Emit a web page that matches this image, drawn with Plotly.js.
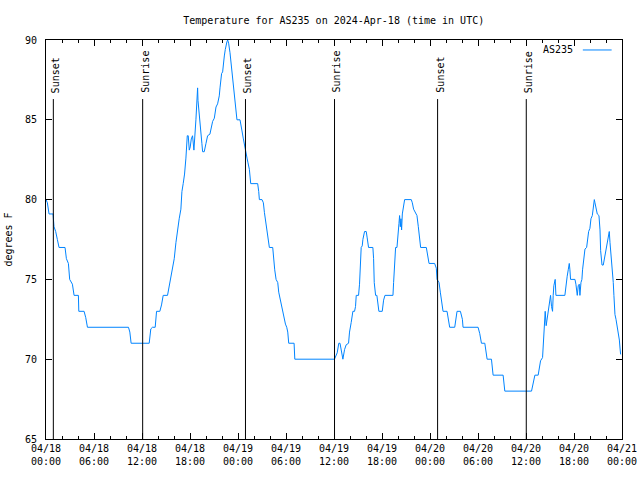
<!DOCTYPE html>
<html>
<head>
<meta charset="utf-8">
<script src="https://cdn.plot.ly/plotly-3.0.1.min.js"></script>
<style>html,body{margin:0;padding:0;background:#fff;}#chart{width:640px;height:480px;}</style>
</head>
<body>
<div id="chart"></div>
<script>
// Hours since 2024-04-18 00:00 UTC
const hours = [0,0.17,0.38,0.88,1.0,1.21,1.42,1.63,2.38,2.55,2.80,2.96,3.30,3.51,4.05,4.1,4.76,4.97,5.18,10.31,10.48,10.64,12.9,13.1,13.31,13.65,13.82,14.23,14.44,14.65,15.19,15.40,15.61,15.82,16.03,16.24,16.44,16.65,16.86,16.99,17.15,17.32,17.49,17.57,17.66,17.78,17.91,18.03,18.16,18.32,18.49,18.74,18.87,18.95,19.0,19.24,19.49,19.58,19.78,19.99,20.2,20.49,20.62,20.83,21.04,21.25,21.45,21.66,21.75,21.95,22.08,22.16,22.29,22.41,22.5,22.62,22.71,22.83,23.0,23.12,23.25,23.33,23.46,23.62,23.75,23.87,24.25,24.38,24.5,24.67,24.83,25.0,25.13,25.25,25.42,25.59,26.46,26.59,26.67,27.0,27.17,27.3,27.42,27.59,27.71,27.92,28.34,28.42,28.59,28.76,28.97,29.09,29.26,29.38,29.51,29.68,29.8,29.93,30.09,30.22,30.34,31.01,31.1,36.06,36.4,36.6,36.75,36.9,37.11,37.32,37.52,37.82,37.94,38.15,38.36,38.57,38.69,38.78,39.07,39.19,39.32,39.4,39.53,39.61,39.82,40.03,40.15,40.32,40.86,40.95,41.03,41.2,41.36,41.49,41.61,42.03,42.2,42.37,43.37,43.45,43.58,43.7,43.87,43.99,44.12,44.2,44.29,44.37,44.45,44.54,44.7,44.83,45.66,45.79,45.95,46.21,46.37,46.54,46.71,46.83,47.54,47.67,47.88,48.58,48.71,48.79,48.88,49.13,49.29,49.46,49.63,50.13,50.38,50.46,51.09,51.3,51.38,51.8,52.05,52.13,54.01,54.22,54.43,54.85,54.97,55.14,55.68,55.81,55.89,57.14,57.22,57.35,60.69,60.9,61.11,61.52,61.65,61.82,62.07,62.15,62.27,62.4,62.52,62.65,62.78,62.9,63.07,63.19,63.32,63.4,63.48,63.65,63.74,64.86,64.99,65.15,65.28,65.41,65.49,65.57,66.12,66.24,66.41,66.53,66.66,66.74,66.87,66.99,67.07,67.24,67.37,67.58,67.74,67.83,67.99,68.12,68.29,68.41,68.54,68.62,68.74,68.91,69.12,69.25,69.33,69.5,69.66,69.83,70.0,70.16,70.33,70.41,70.5,70.66,70.75,70.91,70.99,71.12,71.25,71.42,71.54,71.67,71.75,71.83];
const temps = [80.0,79.8,79.1,79.1,78.3,78.0,77.5,77.0,77.0,76.3,76.0,75.0,74.7,74.0,74.0,73.0,73.0,72.6,72.0,72.0,71.7,71.0,71.0,71.9,72.0,72.0,73.0,73.0,73.4,74.0,74.0,74.6,75.1,75.6,76.3,77.3,78.1,78.8,79.4,80.5,81.0,81.6,82.6,83.5,84.0,84.0,83.1,83.3,83.8,84.0,83.1,85.0,86.3,87.0,86.2,84.6,83.5,83.0,83.0,83.5,84.0,84.1,84.5,84.9,85.1,85.8,86.0,86.5,87.0,87.9,88.0,88.5,89.0,89.4,89.7,89.9,90.0,89.8,89.2,88.6,87.9,87.4,86.8,86.2,85.4,85.0,85.0,84.7,84.3,83.8,83.3,83.0,82.6,82.3,81.9,81.0,81.0,80.5,80.0,80.0,79.8,79.2,78.8,78.2,77.7,77.0,77.0,76.3,75.6,75.0,74.8,74.2,73.8,73.4,73.1,72.9,72.6,72.2,72.0,71.7,71.0,71.0,70.0,70.0,70.4,71.0,71.0,70.6,70.0,70.6,70.9,71.0,71.7,72.3,73.0,73.0,73.3,74.0,74.0,74.7,76.3,77.0,77.1,77.5,78.0,78.0,77.6,77.0,77.0,76.3,74.8,74.0,74.0,73.3,73.0,73.0,73.7,74.0,74.0,74.8,76.3,77.0,77.0,78.1,78.5,79.0,78.3,78.8,78.1,79.1,79.6,80.0,80.0,79.8,79.4,79.1,79.0,78.3,77.6,77.0,77.0,76.5,76.0,76.0,75.8,75.7,75.0,74.8,74.2,73.5,73.0,73.0,72.3,72.0,72.0,72.7,73.0,73.0,72.5,72.0,72.0,71.6,71.0,71.0,70.5,70.0,70.0,69.4,69.0,69.0,68.5,68.0,68.0,68.5,69.0,69.0,69.5,69.9,70.1,71.0,72.5,73.0,72.1,72.5,72.9,73.3,74.0,73.3,73.0,74.0,74.6,75.0,74.0,74.0,74.7,75.2,75.6,76.0,75.6,75.0,75.0,74.7,74.0,74.6,74.7,74.0,74.8,75.0,75.6,76.3,76.9,77.0,77.5,78.0,78.2,78.8,79.0,79.6,80.0,79.8,79.5,79.1,79.0,78.1,76.8,75.9,75.9,76.4,76.9,77.3,77.8,78.0,77.3,76.5,75.6,74.8,74.0,72.8,72.5,72.0,71.7,71.2,70.7,70.3];

const sunsetTimes  = ["2024-04-18 00:55", "2024-04-19 00:56", "2024-04-20 00:57"];
const sunriseTimes = ["2024-04-18 12:05", "2024-04-19 12:04", "2024-04-20 12:02"];
const seriesName = "AS235";
const titleText = "Temperature for AS235 on 2024-Apr-18 (time in UTC)";
const yTitle = "degrees F";

const T0 = Date.UTC(2024, 3, 18, 0, 0, 0);
function fmt(ms) { return new Date(ms).toISOString().slice(0, 19).replace('T', ' '); }
const times = hours.map(h => fmt(T0 + Math.round(h * 3600000)));

const FONT = "DejaVu Sans Mono, Liberation Mono, monospace";
const lineColor = "rgb(0,132,255)";

const shapes = [];
const annotations = [];
const events = [];
sunsetTimes.forEach(t => events.push({t: t, label: "Sunset"}));
sunriseTimes.forEach(t => events.push({t: t, label: "Sunrise"}));
events.forEach(e => {
  shapes.push({type: 'line', xref: 'x', yref: 'paper', x0: e.t, x1: e.t, y0: 0, y1: 0.852,
               line: {color: 'black', width: 1}});
  annotations.push({xref: 'x', yref: 'paper', x: e.t, y: 0.862, text: e.label, textangle: -90,
                    showarrow: false, xanchor: 'center', yanchor: 'bottom', xshift: 2,
                    font: {family: FONT, size: 10, color: 'black'}});
});
// legend (gnuplot style: text then sample line)
annotations.push({xref: 'paper', yref: 'paper', x: 0.918, y: 0.975, text: seriesName, showarrow: false,
                  xanchor: 'right', yanchor: 'middle', font: {family: FONT, size: 10, color: 'black'}});
shapes.push({type: 'line', xref: 'paper', yref: 'paper', x0: 0.932, x1: 0.982, y0: 0.975, y1: 0.975,
             line: {color: lineColor, width: 1}});

const trace = {x: times, y: temps, type: 'scatter', mode: 'lines', name: seriesName,
               line: {color: lineColor, width: 1}, showlegend: false};

const layout = {
  width: 640, height: 480,
  margin: {l: 46, r: 18, t: 40, b: 41},
  paper_bgcolor: 'white', plot_bgcolor: 'white',
  font: {family: FONT, size: 10, color: 'black'},
  title: {text: titleText, x: 0.5214, xanchor: 'center', y: 0.958, yanchor: 'middle',
          font: {family: FONT, size: 10, color: 'black'}},
  xaxis: {
    type: 'date', range: ['2024-04-18 00:00', '2024-04-21 00:00'],
    tickmode: 'linear', tick0: '2024-04-18 00:00', dtick: 6 * 3600000,
    tickformat: '%m/%d<br>%H:%M',
    ticks: 'inside', ticklen: 6, tickcolor: 'black', tickwidth: 1,
    showline: true, linecolor: 'black', linewidth: 1, mirror: 'allticks',
    showgrid: false, zeroline: false,
    minor: {dtick: 2 * 3600000, ticks: 'inside', ticklen: 3, tickcolor: 'black', tickwidth: 1, showgrid: false},
    tickfont: {family: FONT, size: 10, color: 'black'}
  },
  yaxis: {
    range: [65, 90], tickmode: 'linear', tick0: 65, dtick: 5,
    ticks: 'inside', ticklen: 6, tickcolor: 'black', tickwidth: 1,
    showline: true, linecolor: 'black', linewidth: 1, mirror: 'allticks',
    showgrid: false, zeroline: false,
    ticklabelstandoff: 6,
    title: {text: yTitle, font: {family: FONT, size: 10, color: 'black'}, standoff: 10},
    tickfont: {family: FONT, size: 10, color: 'black'}
  },
  shapes: shapes,
  annotations: annotations,
  showlegend: false
};

Plotly.newPlot('chart', [trace], layout, {staticPlot: true, displayModeBar: false});
</script>
</body>
</html>
